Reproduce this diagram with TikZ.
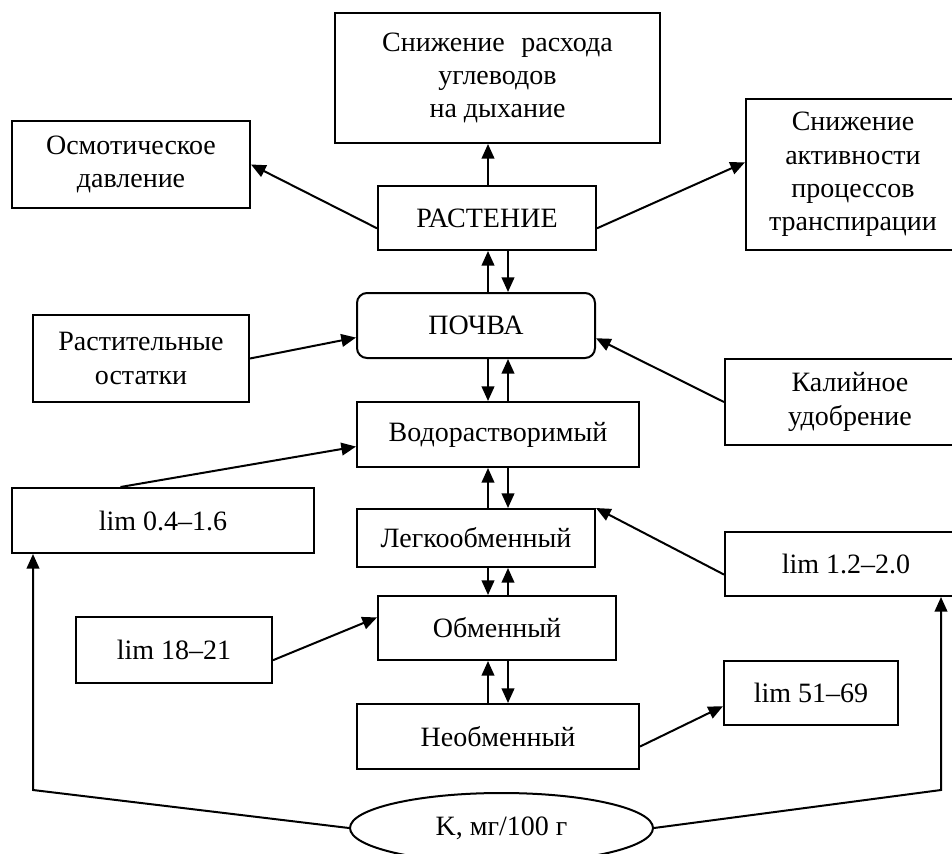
\documentclass[tikz,border=0pt]{standalone}
\usepackage{fontspec}
\setmainfont{Liberation Serif}
\usetikzlibrary{arrows.meta,calc,shapes.geometric}
\begin{document}
\begin{tikzpicture}[x=0.75pt,y=-0.75pt,
  every node/.style={font=\fontsize{21}{25}\selectfont},
  box/.style={draw,line width=1.5pt,rectangle,inner sep=0pt,align=center},
  arr/.style={-{Triangle[length=11pt,width=9.5pt]},line width=1.5pt}]
\useasboundingbox (0,0) rectangle (952,853);
\node[box,minimum width=243.75pt,minimum height=97.5pt] (top) at (497.5,78) {Снижение\hspace{0.35em} расхода\\углеводов\\на дыхание};
\node[box,minimum width=178.5pt,minimum height=65.25pt] (osm) at (131,164.5) {Осмотическое\\давление};
\node[box,minimum width=163.5pt,minimum height=48pt] (rast) at (487,218) {РАСТЕНИЕ};
\node[box,minimum width=160.5pt,minimum height=113.25pt] (trans) at (853,174.5) {Снижение\\активности\\процессов\\транспирации};
\node[box,rounded corners=7.5pt,minimum width=178.5pt,minimum height=48.75pt] (pochva) at (476,325.5) {ПОЧВА};
\node[box,minimum width=162pt,minimum height=65.25pt] (rost) at (141,358.5) {Растительные\\остатки};
\node[box,minimum width=187.5pt,minimum height=64.5pt] (kal) at (850,402) {Калийное\\удобрение};
\node[box,minimum width=211.5pt,minimum height=48.75pt] (vod) at (498,434.5) {Водорастворимый};
\node[box,minimum width=226.5pt,minimum height=48.75pt] (limA) at (163,520.5) {lim 0.4–1.6};
\node[box,minimum width=178.5pt,minimum height=43.5pt] (legk) at (476,538) {Легкообменный};
\node[box,minimum width=181.5pt,minimum height=48pt] (limB) at (846,564) {lim 1.2–2.0};
\node[box,minimum width=178.5pt,minimum height=48pt] (obm) at (497,628) {Обменный};
\node[box,minimum width=147pt,minimum height=49.5pt] (limC) at (174,650) {lim 18–21};
\node[box,minimum width=211.5pt,minimum height=48.75pt] (neobm) at (498,736.5) {Необменный};
\node[box,minimum width=130.5pt,minimum height=48pt] (limD) at (811,693) {lim 51–69};
\node[draw,ellipse,line width=1.5pt,inner sep=0pt,minimum width=227.25pt,minimum height=52.5pt] (k) at (501.5,828) {K, мг/100 г};
\coordinate (colU) at (488,0);
\coordinate (colD) at (508,0);
\coordinate (kl) at (33,790);
\coordinate (kr) at (941,790);
% plant
\draw[arr] ($(rast.north west)!0.656!(rast.south west)$) -- (osm.east);
\draw[arr] ($(rast.north east)!0.656!(rast.south east)$) -- ($(trans.north west)!0.42!(trans.south west)$);
\draw[arr] (rast.north -| colU) -- (top.south -| colU);
\draw[arr] (pochva.north -| colU) -- (rast.south -| colU);
\draw[arr] (rast.south -| colD) -- (pochva.north -| colD);
% soil
\draw[arr] (rost.east) -- ($(pochva.north west)!0.68!(pochva.south west)$);
\draw[arr] (kal.west) -- ($(pochva.north east)!0.69!(pochva.south east)$);
\draw[arr] (pochva.south -| colU) -- (vod.north -| colU);
\draw[arr] (vod.north -| colD) -- (pochva.south -| colD);
% forms
\draw[arr] ($(limA.north west)!0.36!(limA.north east)$) -- ($(vod.north west)!0.68!(vod.south west)$);
\draw[arr] (legk.north -| colU) -- (vod.south -| colU);
\draw[arr] (vod.south -| colD) -- (legk.north -| colD);
\draw[arr] ($(limB.north west)!0.66!(limB.south west)$) -- (legk.north east);
\draw[arr] (legk.south -| colU) -- (obm.north -| colU);
\draw[arr] (obm.north -| colD) -- (legk.south -| colD);
\draw[arr] ($(limC.north east)!0.65!(limC.south east)$) -- ($(obm.north west)!0.34!(obm.south west)$);
\draw[arr] (neobm.north -| colU) -- (obm.south -| colU);
\draw[arr] (obm.south -| colD) -- (neobm.north -| colD);
\draw[arr] ($(neobm.north east)!0.65!(neobm.south east)$) -- ($(limD.north west)!0.7!(limD.south west)$);
% K
\draw[arr] (k.west) -- (kl) -- (limA.south -| kl);
\draw[arr] (k.east) -- (kr) -- (limB.south -| kr);
\end{tikzpicture}
\end{document}
